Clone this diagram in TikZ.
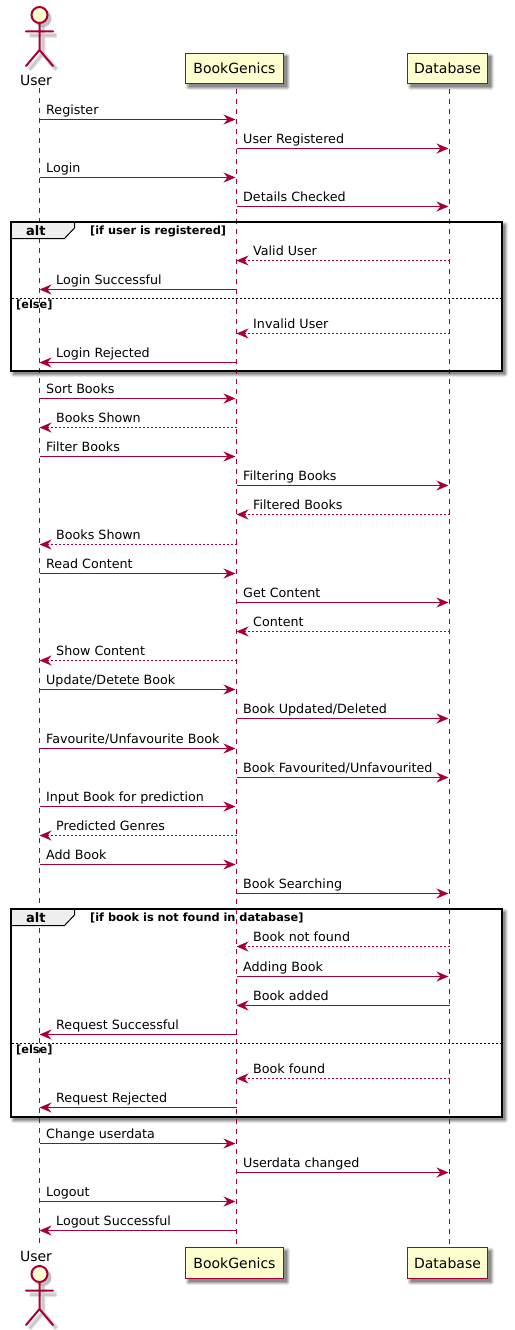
\documentclass[tikz,border=0pt]{standalone}
\usepackage{fontspec}
\setmainfont{DejaVu Sans}
\usetikzlibrary{arrows.meta}
\definecolor{puml}{HTML}{A80036}
\definecolor{pfill}{HTML}{FEFECE}
\definecolor{tabfill}{HTML}{EEEEEE}
\tikzset{
  lifeline/.style={draw=puml,line width=1pt,dash pattern=on 5pt off 5pt},
  part/.style={draw=puml,fill=pfill,line width=1.5pt,inner sep=0pt,font=\fontsize{14}{16}\selectfont,text=black},
  lbl/.style={anchor=base west,inner sep=0pt,font=\fontsize{12.7}{15}\selectfont,text=black},
  actorname/.style={anchor=base,inner sep=0pt,font=\fontsize{14}{16}\selectfont,text=black},
  guard/.style={anchor=base west,inner sep=0pt,font=\fontsize{11.3}{13}\bfseries\selectfont,text=black},
  alttext/.style={anchor=base west,inner sep=0pt,font=\fontsize{13}{15}\bfseries\selectfont,text=black},
  msgline/.style={draw=puml,line width=1pt,-{Stealth[length=12pt,width=10pt,inset=4pt]}},
  retline/.style={msgline,dash pattern=on 2pt off 2pt},
  frameline/.style={draw=black,line width=2pt},
  elseline/.style={draw=black,line width=1pt,dash pattern=on 2pt off 2pt},
  actorline/.style={draw=puml,line width=2pt,line cap=round},
}
% messages: from, to, pixel row, text
\newcommand{\msgR}[4]{\draw[msgline,shorten >=1pt] (#1 |- 0,-#3.5) -- (#2 |- 0,-#3.5);
  \path (#1 |- 0,-#3.5) ++(6.5,4.9) node[lbl] (m#3) {#4};}
\newcommand{\msgL}[4]{\draw[msgline] (#1 |- 0,-#3.5) -- (#2 |- 0,-#3.5);
  \path (#2 |- 0,-#3.5) ++(16.5,4.9) node[lbl] (m#3) {#4};}
\newcommand{\retL}[4]{\draw[retline] (#1 |- 0,-#3.5) -- (#2 |- 0,-#3.5);
  \path (#2 |- 0,-#3.5) ++(16.5,4.9) node[lbl] (m#3) {#4};}
% blurred rectangle shadow
\newcommand{\softrect}[4]{%
  \fill[black,opacity=.08,rounded corners=3pt] (#1,#2) rectangle (#3+6.5,#4-6.5);
  \fill[black,opacity=.12,rounded corners=2pt] (#1+1,#2-1) rectangle (#3+5.5,#4-5.5);
  \fill[black,opacity=.16,rounded corners=1pt] (#1+2,#2-2) rectangle (#3+4.5,#4-4.5);
  \fill[black,opacity=.18] (#1+3,#2-3) rectangle (#3+3.5,#4-3.5);}
% actor at head centre
\newcommand{\actorfig}[3]{%
  \begin{scope}[shift={(#1,#2)}]
    \begin{scope}[shift={(3.5,-3.5)},line cap=butt]
      \draw[black,opacity=.10,line width=5pt] (-13.5,-17) -- (13.5,-17) (0,-8) -- (0,-35) -- (-13.5,-51) (0,-35) -- (13.5,-51);
      \draw[black,opacity=.12,line width=2.5pt] (-13.5,-17) -- (13.5,-17) (0,-8) -- (0,-35) -- (-13.5,-51) (0,-35) -- (13.5,-51);
      \fill[black,opacity=.25] (0,0) circle (8.5);
    \end{scope}
    \draw[actorline,fill=pfill] (0,0) coordinate (#3) circle (8);
    \draw[actorline] (0,-8) -- (0,-35) (-13.5,-16.5) -- (13.5,-16.5) (0,-35) -- (-13.5,-51) (0,-35) -- (13.5,-51);
  \end{scope}}
\begin{document}
\begin{tikzpicture}[x=1pt,y=1pt]
\useasboundingbox (0,0) rectangle (514,-1330);
\fill[white] (0,0) rectangle (514,-1330);
\coordinate (lU) at (39.5,0);
\coordinate (lB) at (236.5,0);
\coordinate (lD) at (449.5,0);

% shadows
\softrect{185.5}{-53.5}{283.5}{-83.5}
\softrect{407.5}{-53.5}{487.5}{-83.5}
\softrect{185.5}{-1247.5}{283.5}{-1278.5}
\softrect{407.5}{-1247.5}{487.5}{-1278.5}
\softrect{10.5}{-221.5}{501.5}{-370.5}
\softrect{10.5}{-908.5}{501.5}{-1116.5}
\fill[white] (10.5,-221.5) rectangle (501.5,-370.5);
\fill[white] (10.5,-908.5) rectangle (501.5,-1116.5);

% participants
\actorfig{39.5}{-15}{headTop}
\actorfig{39.5}{-1274}{headBot}
\node[actorname] (userTop) at (36,-85) {User};
\node[actorname] (userBot) at (36,-1261) {User};
\node[part,minimum width=98pt,minimum height=30pt] (bookTop) at (234.5,-68.5) {BookGenics};
\node[part,minimum width=80pt,minimum height=30pt] (dataTop) at (447.5,-68.5) {Database};
\node[part,minimum width=98pt,minimum height=31pt] (bookBot) at (234.5,-1263) {BookGenics};
\node[part,minimum width=80pt,minimum height=31pt] (dataBot) at (447.5,-1263) {Database};

% lifelines
\coordinate (uStart) at (39.5,-88);
\coordinate (uEnd) at (39.5,-1243);
\draw[lifeline] (uStart) -- (uEnd);
\draw[lifeline] (lB |- bookTop.south) ++(0,-4.5) -- (lB |- bookBot.north);
\draw[lifeline] (lD |- dataTop.south) ++(0,-4.5) -- (lD |- dataBot.north);

% frame 1
\draw[frameline] (10.5,-221.5) rectangle (501.5,-370.5);
\filldraw[draw=black,line width=1pt,fill=tabfill] (10.5,-221.5) -- (74.5,-221.5) -- (74.5,-228) -- (64.5,-238.5) -- (10.5,-238.5) -- cycle;
\draw[frameline] (10.5,-221.5) -- (74.5,-221.5);
\draw[frameline] (10.5,-221.5) -- (10.5,-238.5);
\node[alttext] (alt1) at (26,-235) {alt};
\node[guard] (g1) at (90,-234) {[if user is registered]};
\draw[elseline] (11.5,-298.5) coordinate (e1a) -- (500.5,-298.5) coordinate (e1b);
\node[guard] (else1) at (16,-308) {[else]};

% frame 2
\draw[frameline] (10.5,-908.5) rectangle (501.5,-1116.5);
\filldraw[draw=black,line width=1pt,fill=tabfill] (10.5,-908.5) -- (74.5,-908.5) -- (74.5,-915) -- (64.5,-925.5) -- (10.5,-925.5) -- cycle;
\draw[frameline] (10.5,-908.5) -- (74.5,-908.5);
\draw[frameline] (10.5,-908.5) -- (10.5,-925.5);
\node[alttext] (alt2) at (26,-922) {alt};
\node[guard] (g2) at (90,-921) {[if book is not found in database]};
\draw[elseline] (11.5,-1043.5) coordinate (e2a) -- (500.5,-1043.5) coordinate (e2b);
\node[guard] (else2) at (16,-1053) {[else]};

% messages
\msgR{lU}{lB}{119}{Register}
\msgR{lB}{lD}{148}{User Registered}
\msgR{lU}{lB}{177}{Login}
\msgR{lB}{lD}{206}{Details Checked}
\retL{lD}{lB}{260}{Valid User}
\msgL{lB}{lU}{289}{Login Successful}
\retL{lD}{lB}{333}{Invalid User}
\msgL{lB}{lU}{362}{Login Rejected}
\msgR{lU}{lB}{398}{Sort Books}
\retL{lB}{lU}{427}{Books Shown}
\msgR{lU}{lB}{456}{Filter Books}
\msgR{lB}{lD}{485}{Filtering Books}
\retL{lD}{lB}{514}{Filtered Books}
\retL{lB}{lU}{544}{Books Shown}
\msgR{lU}{lB}{573}{Read Content}
\msgR{lB}{lD}{602}{Get Content}
\retL{lD}{lB}{631}{Content}
\retL{lB}{lU}{660}{Show Content}
\msgR{lU}{lB}{689}{Update/Detete Book}
\msgR{lB}{lD}{718}{Book Updated/Deleted}
\msgR{lU}{lB}{748}{Favourite/Unfavourite Book}
\msgR{lB}{lD}{777}{Book Favourited/Unfavourited}
\msgR{lU}{lB}{806}{Input Book for prediction}
\retL{lB}{lU}{835}{Predicted Genres}
\msgR{lU}{lB}{864}{Add Book}
\msgR{lB}{lD}{893}{Book Searching}
\retL{lD}{lB}{946}{Book not found}
\msgR{lB}{lD}{976}{Adding Book}
\msgL{lD}{lB}{1005}{Book added}
\msgL{lB}{lU}{1034}{Request Successful}
\retL{lD}{lB}{1078}{Book found}
\msgL{lB}{lU}{1107}{Request Rejected}
\msgR{lU}{lB}{1143}{Change userdata}
\msgR{lB}{lD}{1172}{Userdata changed}
\msgR{lU}{lB}{1201}{Logout}
\msgL{lB}{lU}{1230}{Logout Successful}
\end{tikzpicture}
\end{document}
